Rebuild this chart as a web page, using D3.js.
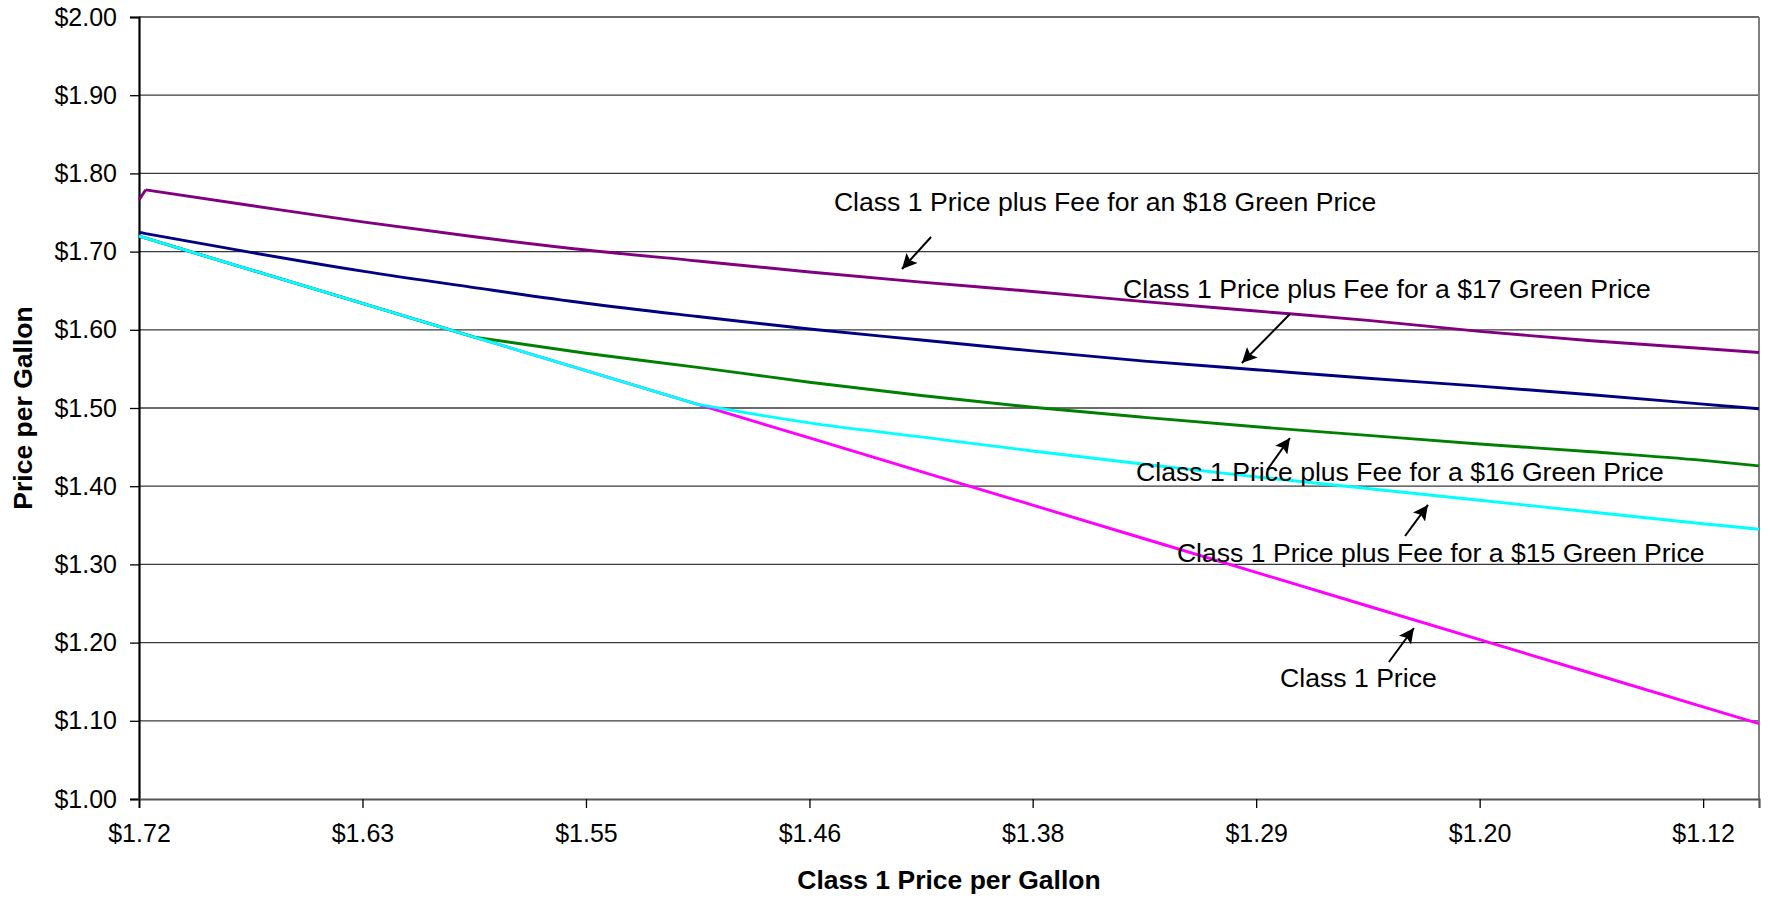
<!DOCTYPE html>
<html>
<head>
<meta charset="utf-8">
<script src="https://cdn.jsdelivr.net/npm/d3@7"></script>
<style>
  html, body { margin: 0; padding: 0; background: #fff; }
  svg { display: block; }
  text { font-family: "Liberation Sans", Arial, sans-serif; fill: #000; }
</style>
</head>
<body>
<svg id="chart" width="1770" height="899"></svg>
<script>
// Class 1 price per gallon (x categories, $20.00/cwt down to $12.75/cwt)
const classPricePerGallon = [1.7197, 1.7171, 1.6767, 1.6337, 1.5907, 1.5477, 1.5047, 1.4617, 1.4187,
                             1.3758, 1.3328, 1.2898, 1.2468, 1.2038, 1.1608, 1.1178, 1.0963];

// Series values, price per gallon
const classOnePrice = [1.7197, 1.7171, 1.6767, 1.6337, 1.5907, 1.5477, 1.5047, 1.4617, 1.4187,
                       1.3758, 1.3328, 1.2898, 1.2468, 1.2038, 1.1608, 1.1178, 1.0963];
const plusFee18 = [1.766, 1.779, 1.759, 1.738, 1.719, 1.702, 1.688, 1.674, 1.661,
                   1.649, 1.636, 1.624, 1.612, 1.598, 1.586, 1.576, 1.571];
const plusFee17 = [1.725, 1.723, 1.699, 1.675, 1.654, 1.634, 1.617, 1.601, 1.587,
                   1.573, 1.560, 1.549, 1.538, 1.528, 1.517, 1.505, 1.499];
const plusFee16 = [1.7197, 1.7171, 1.6767, 1.6337, 1.5907, 1.570, 1.552, 1.533, 1.516,
                   1.501, 1.488, 1.476, 1.465, 1.454, 1.444, 1.433, 1.426];
const plusFee15 = [1.7197, 1.7171, 1.6767, 1.6337, 1.5907, 1.5477, 1.5047, 1.481, 1.463,
                   1.445, 1.428, 1.412, 1.397, 1.382, 1.367, 1.352, 1.345];

// Axis ticks
const xTickValues = [1.7197, 1.6337, 1.5477, 1.4617, 1.3758, 1.2898, 1.2038, 1.1178];
const yTickValues = [1.00, 1.10, 1.20, 1.30, 1.40, 1.50, 1.60, 1.70, 1.80, 1.90, 2.00];

const seriesList = [
  { name: "Class 1 Price", values: classOnePrice, color: "#FF00FF" },
  { name: "$18", values: plusFee18, color: "#800080" },
  { name: "$17", values: plusFee17, color: "#000080" },
  { name: "$16", values: plusFee16, color: "#008000" },
  { name: "$15", values: plusFee15, color: "#00FFFF" }
];

// Callouts: label anchor and arrow (tail -> head), all in data units
const callouts = [
  { text: "Class 1 Price plus Fee for an $18 Green Price", at: [1.4523, 1.7519],
    tail: [1.4149, 1.7187], head: [1.4261, 1.6777] },
  { text: "Class 1 Price plus Fee for a $17 Green Price", at: [1.3410, 1.6407],
    tail: [1.2768, 1.6202], head: [1.2953, 1.5575] },
  { text: "Class 1 Price plus Fee for a $16 Green Price", at: [1.3360, 1.4066],
    tail: [1.2856, 1.4207], head: [1.2768, 1.4616] },
  { text: "Class 1 Price plus Fee for a $15 Green Price", at: [1.3203, 1.3031],
    tail: [1.2325, 1.3363], head: [1.2237, 1.3760] },
  { text: "Class 1 Price", at: [1.2806, 1.1432],
    tail: [1.2387, 1.1752], head: [1.2291, 1.2187] }
];

const svg = d3.select("#chart");
const plot = { left: 139, right: 1759, top: 17, bottom: 799 };

const x = d3.scaleLinear()
  .domain([classPricePerGallon[0], classPricePerGallon[classPricePerGallon.length - 1]])
  .range([plot.left, plot.right]);
const y = d3.scaleLinear().domain([1, 2]).range([plot.bottom, plot.top]);

const fmt = v => "$" + v.toFixed(2);

// Horizontal gridlines
svg.append("g").selectAll("line")
  .data(yTickValues.filter(v => v > 1))
  .join("line")
  .attr("x1", plot.left).attr("x2", plot.right)
  .attr("y1", d => y(d)).attr("y2", d => y(d))
  .attr("stroke", "#3a3a3a").attr("stroke-width", 1.3);

// Right border
svg.append("line")
  .attr("x1", plot.right).attr("x2", plot.right)
  .attr("y1", plot.top).attr("y2", plot.bottom)
  .attr("stroke", "#808080").attr("stroke-width", 2);

// Y axis
const yAxis = svg.append("g")
  .attr("transform", `translate(${plot.left},0)`)
  .call(d3.axisLeft(y).tickValues(yTickValues).tickFormat(fmt).tickSize(9).tickPadding(13));
yAxis.select(".domain").attr("stroke", "#000").attr("stroke-width", 2.2);
yAxis.selectAll(".tick line").attr("stroke", "#000").attr("stroke-width", 1.3);
yAxis.selectAll(".tick text")
  .style("font-family", "'Liberation Sans', Arial, sans-serif")
  .style("font-size", "25px").attr("fill", "#000");

// X axis
const xAxis = svg.append("g")
  .attr("transform", `translate(0,${plot.bottom})`)
  .call(d3.axisBottom(x).tickValues(xTickValues).tickFormat(fmt).tickSize(9).tickPadding(16));
xAxis.select(".domain").attr("stroke", "#555").attr("stroke-width", 2.2);
xAxis.selectAll(".tick line").attr("stroke", "#000").attr("stroke-width", 1.3);
xAxis.selectAll(".tick text")
  .style("font-family", "'Liberation Sans', Arial, sans-serif")
  .style("font-size", "25px").attr("fill", "#000");

// Series lines: the opening step and any stretch that runs on the Class 1
// price are straight; the rest is drawn as a smooth monotone curve.
const pts = s => s.values.map((v, i) => [x(classPricePerGallon[i]), y(v)]);
const straight = d3.line();
const smooth = d3.line().curve(d3.curveMonotoneX);

function seriesPath(s) {
  const p = pts(s);
  if (s.values === classOnePrice) return straight(p);
  let last = -1;
  s.values.forEach((v, i) => { if (Math.abs(v - classOnePrice[i]) < 1e-9) last = i; });
  const k = Math.max(last, 1);
  return straight(p.slice(0, k + 1)) + smooth(p.slice(k));
}

svg.append("g").selectAll("path")
  .data(seriesList)
  .join("path")
  .attr("d", seriesPath)
  .attr("fill", "none")
  .attr("stroke", d => d.color)
  .attr("stroke-width", 2.9)
  .attr("stroke-linejoin", "round");

// Arrowhead marker
svg.append("defs").append("marker")
  .attr("id", "arrowhead")
  .attr("viewBox", "0 0 10 10")
  .attr("refX", 10).attr("refY", 5)
  .attr("markerUnits", "userSpaceOnUse")
  .attr("markerWidth", 20).attr("markerHeight", 15)
  .attr("orient", "auto")
  .append("path")
  .attr("d", "M0,0 L10,5 L0,10 L2,5 Z")
  .attr("fill", "#000");

const notes = svg.append("g");
notes.selectAll("line")
  .data(callouts)
  .join("line")
  .attr("x1", d => x(d.tail[0])).attr("y1", d => y(d.tail[1]))
  .attr("x2", d => x(d.head[0])).attr("y2", d => y(d.head[1]))
  .attr("stroke", "#000").attr("stroke-width", 2)
  .attr("marker-end", "url(#arrowhead)");
notes.selectAll("text")
  .data(callouts)
  .join("text")
  .attr("x", d => x(d.at[0])).attr("y", d => y(d.at[1]))
  .style("font-size", "26.6px")
  .text(d => d.text);

// Axis titles
svg.append("text")
  .attr("x", (plot.left + plot.right) / 2).attr("y", 889)
  .attr("text-anchor", "middle")
  .style("font-size", "26.5px").style("font-weight", "bold")
  .text("Class 1 Price per Gallon");

svg.append("text")
  .attr("transform", `translate(32,${(plot.top + plot.bottom) / 2}) rotate(-90)`)
  .attr("text-anchor", "middle")
  .style("font-size", "26.5px").style("font-weight", "bold")
  .text("Price per Gallon");
</script>
</body>
</html>
